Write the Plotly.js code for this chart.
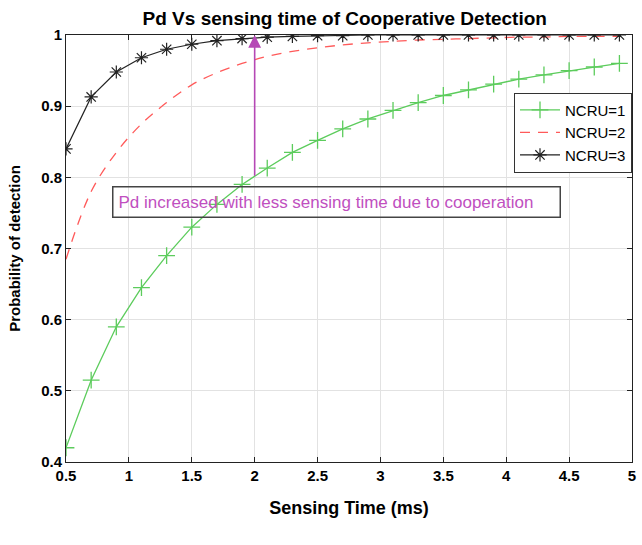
<!DOCTYPE html>
<html><head><meta charset="utf-8">
<script src="https://cdn.plot.ly/plotly-3.0.1.min.js"></script>
<style>html,body{margin:0;padding:0;background:#fff}#chart{width:642px;height:545px}</style>
</head><body><div id="chart"></div>
<script>
const sensingTime = [0.5,0.7,0.9,1.1,1.3,1.5,1.7,1.9,2.1,2.3,2.5,2.7,2.9,3.1,3.3,3.5,3.7,3.9,4.1,4.3,4.5,4.7,4.9];
const ncru1 = [0.42,0.515,0.59,0.645,0.69,0.73,0.762,0.79,0.813,0.835,0.852,0.868,0.882,0.894,0.905,0.915,0.923,0.931,0.938,0.944,0.95,0.955,0.96];
const ncru2 = [0.685,0.78,0.835,0.875,0.905,0.93,0.947,0.96,0.97,0.977,0.982,0.986,0.989,0.991,0.993,0.994,0.995,0.996,0.997,0.997,0.998,0.998,0.998];
const ncru3 = [0.84,0.913,0.948,0.968,0.98,0.987,0.992,0.995,0.997,0.998,0.999,0.999,1,1,1,1,1,1,1,1,1,1,1];
const seriesNames = ["NCRU=1","NCRU=2","NCRU=3"];
const titleText = "Pd Vs sensing time of Cooperative Detection";
const xTitle = "Sensing Time (ms)";
const yTitle = "Probability of detection";
const noteText = "Pd increased with less sensing time due to cooperation";

const F = "Liberation Sans, Arial, sans-serif";
const traces = [
  {x: sensingTime, y: ncru1, name: seriesNames[0], mode: "lines+markers",
   line: {color: "#5ccc5c", width: 1.3},
   marker: {symbol: "cross-thin-open", size: 12, line: {color: "#5ccc5c", width: 1.3}, color: "#5ccc5c"}},
  {x: sensingTime, y: ncru2, name: seriesNames[1], mode: "lines",
   line: {color: "#ff5a5a", width: 1.3, dash: "10px,8px", shape: "spline"}},
  {x: sensingTime, y: ncru3, name: seriesNames[2], mode: "lines+markers",
   line: {color: "#222222", width: 1.2},
   marker: {symbol: "asterisk-open", size: 11, line: {color: "#222222", width: 1.2}, color: "#222222"}}
];
const layout = {
  width: 642, height: 545,
  margin: {l: 66, r: 10, t: 35, b: 83},
  paper_bgcolor: "#fff", plot_bgcolor: "#fff",
  showlegend: true,
  title: {text: titleText, x: 0.537, xanchor: "center", y: 0.967, yanchor: "middle",
          font: {family: F, size: 19, color: "#000", weight: "bold"}},
  xaxis: {range: [0.5, 5], tick0: 0.5, dtick: 0.5, showgrid: true, gridcolor: "#e2e2e2",
          showline: true, linecolor: "#222", linewidth: 1, mirror: "ticks",
          ticks: "inside", ticklen: 5, tickcolor: "#222", zeroline: false,
          tickfont: {family: F, size: 15, color: "#000", weight: "bold"},
          title: {text: xTitle, standoff: 18, font: {family: F, size: 18, color: "#000", weight: "bold"}}},
  yaxis: {range: [0.4, 1], tick0: 0.4, dtick: 0.1, showgrid: true, gridcolor: "#e2e2e2",
          showline: true, linecolor: "#222", linewidth: 1, mirror: "ticks",
          ticks: "inside", ticklen: 5, tickcolor: "#222", zeroline: false,
          tickfont: {family: F, size: 15, color: "#000", weight: "bold"},
          title: {text: yTitle, standoff: 16, font: {family: F, size: 15, color: "#000", weight: "bold"}}},
  legend: {x: 1, xanchor: "right", y: 0.865, yanchor: "top", bgcolor: "#fff",
           bordercolor: "#333", borderwidth: 1, font: {family: F, size: 15, color: "#000"},
           tracegroupgap: 0, itemwidth: 40},
  annotations: [
    {x: 2, y: 1, ax: 2, ay: 0.8, xref: "x", yref: "y", axref: "x", ayref: "y",
     showarrow: true, arrowhead: 2, arrowsize: 1.6, arrowwidth: 1.6, arrowcolor: "#b548b5", text: ""},
    {x: 2.65, y: 0.765, xref: "x", yref: "y", text: noteText, showarrow: false,
     font: {family: F, size: 17, color: "#c04fc0"}, bgcolor: "rgba(0,0,0,0)", bordercolor: "#444",
     borderwidth: 1.5, borderpad: 5, width: 436, align: "left"}
  ]
};
Plotly.newPlot("chart", traces, layout, {displayModeBar: false, staticPlot: true});
</script></body></html>
